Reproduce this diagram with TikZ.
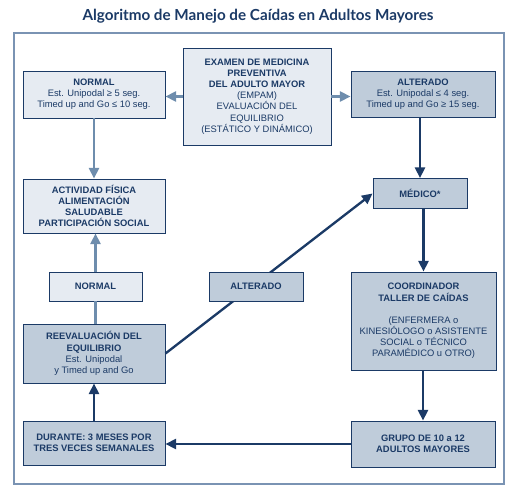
\documentclass[tikz,border=0pt]{standalone}
\usepackage{fontspec}
\setmainfont{Liberation Sans}
\newfontfamily\titlefont{Lato}
\usetikzlibrary{arrows.meta, positioning}
\definecolor{navy}{HTML}{1B3A66}
\definecolor{steel}{HTML}{6E8DAD}
\definecolor{paleblue}{HTML}{E6EBF2}
\definecolor{greyblue}{HTML}{BFCCDA}
\definecolor{framecol}{HTML}{7A93B3}

\begin{document}
\begin{tikzpicture}[x=0.3mm, y=-0.3mm,
    box/.style={draw=navy, line width=0.8pt, align=center, text=navy, font=\fontsize{8}{9.5}\selectfont, inner sep=1pt},
    lightbox/.style={box, fill=paleblue},
    darkbox/.style={box, fill=greyblue},
    larrw/.style={-{Triangle[length=9pt,width=8.5pt]}, steel, line width=2pt},
    darrw/.style={-{Triangle[length=9pt,width=8.5pt]}, navy, line width=2pt}
]
\useasboundingbox (0,0) rectangle (517,493);
% Title and frame
\node[font=\titlefont\bfseries\fontsize{13}{15}\selectfont, text=navy] (title) at (258,16) {Algoritmo de Manejo de Caídas en Adultos Mayores};
\draw[framecol, line width=1pt] (14,33) rectangle (504,484);
% Top row
\node[lightbox, minimum width=44.4mm, minimum height=29.1mm] (exam) at (257,96.5)
    {\textbf{EXAMEN DE MEDICINA}\\\textbf{PREVENTIVA}\\\textbf{DEL ADULTO MAYOR}\\(EMPAM)\\EVALUACIÓN DEL\\EQUILIBRIO\\(ESTÁTICO Y DINÁMICO)};
\node[lightbox, minimum width=42.6mm, minimum height=14.1mm] (norm1) at (94,94.5)
    {\textbf{NORMAL}\\Est. Unipodal ≥ 5 seg.\\Timed up and Go ≤ 10 seg.};
\node[darkbox, minimum width=43.2mm, minimum height=13.8mm] (alt1) at (423,94)
    {\textbf{ALTERADO}\\Est. Unipodal ≤ 4 seg.\\Timed up and Go ≥ 15 seg.};
% Left column
\node[lightbox, minimum width=42.6mm, minimum height=16.2mm] (act) at (94,206)
    {\textbf{ACTIVIDAD FÍSICA}\\\textbf{ALIMENTACIÓN}\\\textbf{SALUDABLE}\\\textbf{PARTICIPACIÓN SOCIAL}};
\node[lightbox, minimum width=27.9mm, minimum height=8.7mm] (norm2) at (95.5,286.5) {\textbf{NORMAL}};
\node[darkbox, minimum width=42.6mm, minimum height=17.7mm] (reeval) at (94,353.5)
    {\textbf{REEVALUACIÓN DEL}\\\textbf{EQUILIBRIO}\\Est. Unipodal\\y Timed up and Go};
\node[darkbox, minimum width=42.6mm, minimum height=13.2mm] (durante) at (94,443)
    {\textbf{DURANTE: 3 MESES POR}\\\textbf{TRES VECES SEMANALES}};
% Right column
\node[darkbox, minimum width=28.2mm, minimum height=9mm] (medico) at (420,193.5) {\textbf{MÉDICO*}};
\node[darkbox, minimum width=43.5mm, minimum height=29.4mm] (coord) at (423.5,321)
    {\textbf{COORDINADOR}\\\textbf{TALLER DE CAÍDAS}\\[9.5pt](ENFERMERA o\\KINESIÓLOGO o ASISTENTE\\SOCIAL o TÉCNICO\\PARAMÉDICO u OTRO)};
\node[darkbox, minimum width=43.2mm, minimum height=13.8mm] (grupo) at (423,444)
    {\textbf{GRUPO DE 10 a 12}\\\textbf{ADULTOS MAYORES}};
% Connectors
\draw[larrw] (exam.west) -- (exam.west -| norm1.east);
\draw[larrw] (exam.east) -- (exam.east -| alt1.west);
\draw[larrw] (norm1.south) -- (norm1.south |- act.north);
\draw[larrw] (norm2.north) -- (norm2.north |- act.south);
\draw[steel, line width=2pt] (reeval.north -| norm2.south) -- (norm2.south);
\draw[darrw] (medico.north |- alt1.south) -- (medico.north);
\draw[darrw] (medico.south -| coord.north) -- (coord.north);
\draw[darrw] (coord.south -| grupo.north) -- (grupo.north);
\draw[darrw] (grupo.west -| grupo.west) -- (grupo.west -| durante.east);
\draw[darrw] (durante.north) -- (reeval.south);
\draw[darrw] (reeval.east) -- (medico.west);
% drawn last so that it sits over the line
\node[darkbox, minimum width=28.2mm, minimum height=8.7mm] (alt2) at (256,286.5) {\textbf{ALTERADO}};
\end{tikzpicture}
\end{document}
